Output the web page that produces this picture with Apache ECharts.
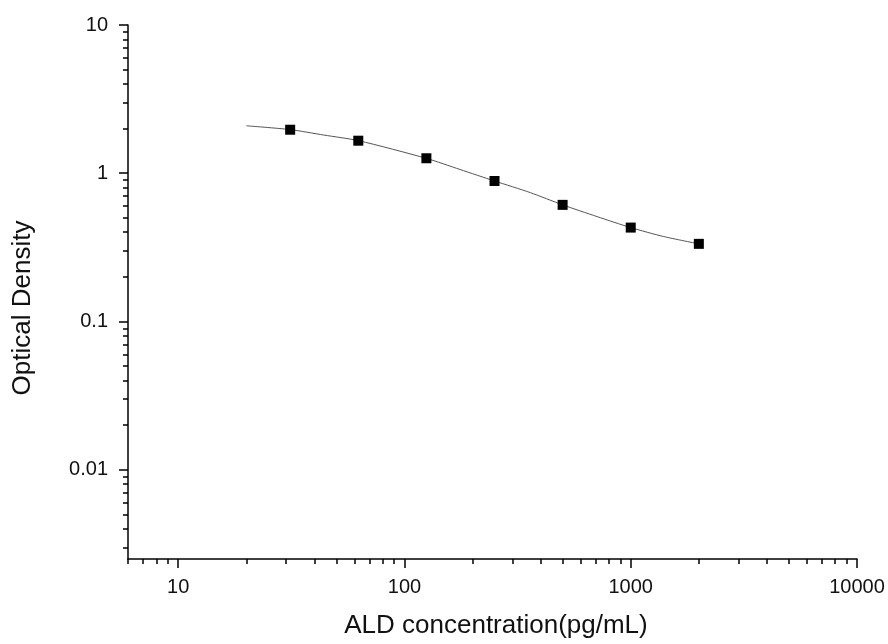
<!DOCTYPE html>
<html>
<head>
<meta charset="utf-8">
<script src="https://cdn.jsdelivr.net/npm/echarts@6/dist/echarts.min.js"></script>
<style>
html,body{margin:0;padding:0;background:#fff;}
#chart{width:888px;height:644px;}
</style>
</head>
<body>
<div id="chart"></div>
<script>
// Standard points (concentration pg/mL, OD)
var pointX = [31.25, 62.5, 125, 250, 500, 1000, 2000];
var pointY = [1.966, 1.658, 1.262, 0.887, 0.612, 0.430, 0.334];
// Fitted curve
var curveX = [20, 31.25, 44, 62.5, 125, 176, 250, 360, 500, 710, 1000, 1400, 2000];
var curveY = [2.09, 1.97, 1.81, 1.66, 1.26, 1.06, 0.887, 0.74, 0.612, 0.51, 0.43, 0.374, 0.334];
// Axis ticks
var xMajorTicks = [10, 100, 1000, 10000];
var xMinorTicks = [6, 7, 8, 9, 20, 30, 40, 50, 60, 70, 80, 90, 200, 300, 400, 500, 600, 700, 800, 900, 2000, 3000, 4000, 5000, 6000, 7000, 8000, 9000];
var yMajorTicks = [0.01, 0.1, 1, 10];
var yMinorTicks = [0.003, 0.004, 0.005, 0.006, 0.007, 0.008, 0.009, 0.02, 0.03, 0.04, 0.05, 0.06, 0.07, 0.08, 0.09, 0.2, 0.3, 0.4, 0.5, 0.6, 0.7, 0.8, 0.9, 2, 3, 4, 5, 6, 7, 8, 9];
var xTitle = 'ALD concentration(pg/mL)';
var yTitle = 'Optical Density';

var chart = echarts.init(document.getElementById('chart'));
var font = '"Liberation Sans", Arial, sans-serif';
var axisColor = '#000';

function pairs(xs, ys) { return xs.map(function (x, i) { return [x, ys[i]]; }); }
function plain(v) { return String(Number(Number(v).toPrecision(6))); }

chart.setOption({
  animation: false,
  backgroundColor: '#fff',
  grid: { left: 128, right: 31, top: 25, bottom: 83.5, containLabel: false },
  xAxis: [{
    type: 'log', logBase: 10, min: 6, max: 10000, position: 'bottom',
    name: xTitle, nameLocation: 'middle', nameGap: 54,
    nameTextStyle: { fontFamily: font, fontSize: 26, color: '#111', padding: [0, 0, 0, 7] },
    axisLine: { show: true, lineStyle: { color: axisColor, width: 1.5 } },
    axisTick: { show: true, length: 9, customValues: xMajorTicks, lineStyle: { color: axisColor, width: 1.5 } },
    axisLabel: { show: true, customValues: xMajorTicks, margin: 18, fontFamily: font, fontSize: 20, color: '#111', formatter: plain },
    splitLine: { show: false }, minorTick: { show: false }
  }, {
    type: 'log', logBase: 10, min: 6, max: 10000, position: 'bottom', offset: 0,
    axisLine: { show: false },
    axisTick: { show: true, length: 5, customValues: xMinorTicks, lineStyle: { color: axisColor, width: 1.5 } },
    axisLabel: { show: false },
    splitLine: { show: false }
  }],
  yAxis: [{
    type: 'log', logBase: 10, min: 0.0025, max: 10, position: 'left',
    name: yTitle, nameLocation: 'middle', nameGap: 92,
    nameTextStyle: { fontFamily: font, fontSize: 26, color: '#111', padding: [0, 32, 0, 0] },
    axisLine: { show: true, lineStyle: { color: axisColor, width: 1.5 } },
    axisTick: { show: true, length: 9, customValues: yMajorTicks, lineStyle: { color: axisColor, width: 1.5 } },
    axisLabel: { show: true, customValues: yMajorTicks, margin: 20, fontFamily: font, fontSize: 20, color: '#111', formatter: plain },
    splitLine: { show: false }
  }, {
    type: 'log', logBase: 10, min: 0.0025, max: 10, position: 'left', offset: 0,
    axisLine: { show: false },
    axisTick: { show: true, length: 5, customValues: yMinorTicks, lineStyle: { color: axisColor, width: 1.5 } },
    axisLabel: { show: false },
    splitLine: { show: false }
  }],
  series: [{
    type: 'line', xAxisIndex: 0, yAxisIndex: 0,
    data: pairs(curveX, curveY),
    smooth: 0.25, showSymbol: false, symbol: 'none',
    lineStyle: { color: '#555', width: 1 },
    z: 2
  }, {
    type: 'scatter', xAxisIndex: 0, yAxisIndex: 0,
    data: pairs(pointX, pointY),
    symbol: 'rect', symbolSize: 10,
    itemStyle: { color: '#000', opacity: 1 },
    z: 3
  }]
});
</script>
</body>
</html>
